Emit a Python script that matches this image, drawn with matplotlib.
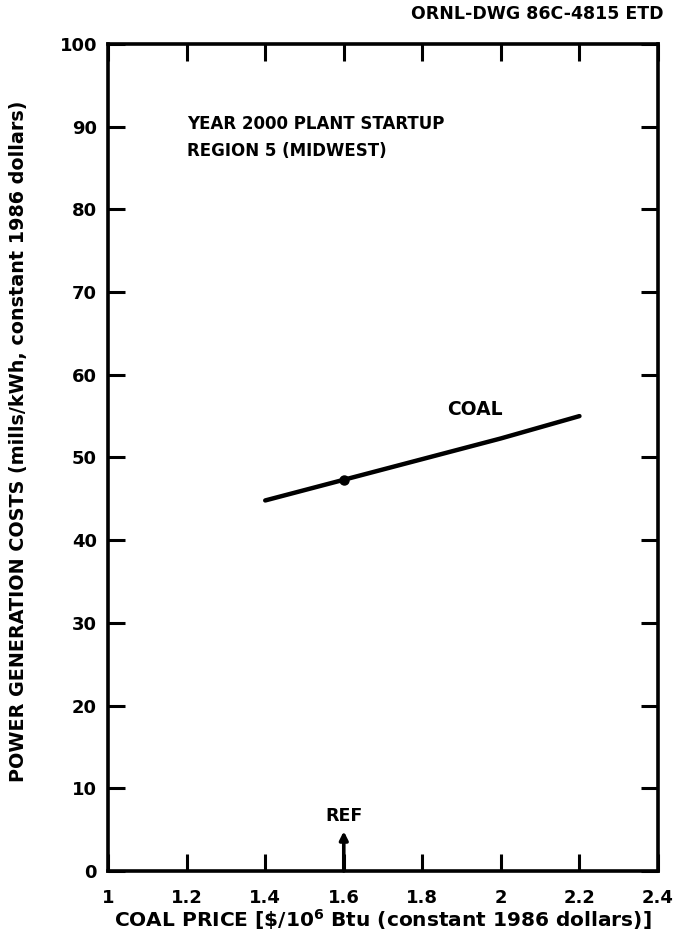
import matplotlib
matplotlib.use("Agg")
import matplotlib.pyplot as plt

# Coal-fired power generation cost vs. coal price
coal_price = [1.4, 1.6, 1.8, 2.0, 2.2]
coal_cost = [44.8, 47.3, 49.8, 52.3, 55.0]
ref_price = 1.6
ref_cost = 47.3

x_ticks = [1, 1.2, 1.4, 1.6, 1.8, 2, 2.2, 2.4]
x_tick_labels = ["1", "1.2", "1.4", "1.6", "1.8", "2", "2.2", "2.4"]
y_ticks = [0, 10, 20, 30, 40, 50, 60, 70, 80, 90, 100]

plt.rcParams['font.family'] = ['DejaVu Sans']
plt.rcParams['font.weight'] = 'bold'

fig = plt.figure(figsize=(6.93, 9.43), dpi=100)
ax = fig.add_axes([0.156, 0.0764, 0.7935, 0.877])

ax.plot(coal_price, coal_cost, color='black', lw=3.2, solid_capstyle='round')
ax.plot([ref_price], [ref_cost], 'o', color='black', ms=6.5)

ax.set_xlim(1, 2.4)
ax.set_ylim(0, 100)
ax.set_xticks(x_ticks)
ax.set_xticklabels(x_tick_labels)
ax.set_yticks(y_ticks)

ax.tick_params(direction='in', length=12, width=2.2, top=True, right=True,
               labelsize=13)
ax.tick_params(axis='x', pad=13)
ax.tick_params(axis='y', pad=8)
for lbl in ax.get_xticklabels() + ax.get_yticklabels():
    lbl.set_fontweight('bold')
for s in ax.spines.values():
    s.set_linewidth(2.6)

ax.set_xlabel("COAL PRICE [\\$/10$^\\mathbf{6}$ Btu (constant 1986 dollars)]",
              fontsize=14.5, fontweight='bold', labelpad=0)
ax.set_ylabel("POWER GENERATION COSTS (mills/kWh, constant 1986 dollars)",
              fontsize=13.8, fontweight='bold')
ax.yaxis.set_label_coords(-0.145, 0.52)

ax.text(1.2, 91.4, "YEAR 2000 PLANT STARTUP\nREGION 5 (MIDWEST)",
        fontsize=12, fontweight='bold', va='top', ha='left', linespacing=1.65)
ax.text(1.935, 55.8, "COAL", fontsize=13.5, fontweight='bold', ha='center', va='center')

# Reference price marker
ax.annotate("", xy=(ref_price, 4.8), xytext=(ref_price, 0),
            arrowprops=dict(arrowstyle='-|>', color='black', lw=2.6,
                            mutation_scale=12, shrinkA=0, shrinkB=0))
ax.text(ref_price, 5.6, "REF", fontsize=12.5, fontweight='bold', ha='center', va='bottom')

fig.text(0.958, 0.985, "ORNL-DWG 86C-4815 ETD", fontsize=12.5, fontweight='bold',
         ha='right', va='center')

fig.savefig("out.png", dpi=100)
